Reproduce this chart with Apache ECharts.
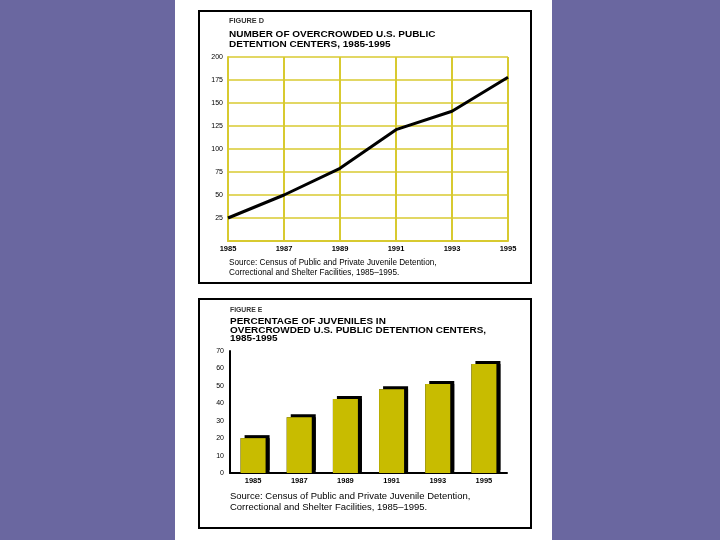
<!DOCTYPE html>
<html><head><meta charset="utf-8">
<script src="https://cdn.jsdelivr.net/npm/echarts@6/dist/echarts.min.js"></script>
<style>html,body{margin:0;padding:0;background:#6a67a0;}#c{width:720px;height:540px;}</style>
</head><body><div id="c"></div>
<script>
// Figure D data
const lineYears = ['1985','1987','1989','1991','1993','1995'];
const overcrowdedCenters = [25, 50, 79, 121, 141, 178];
// Figure E data
const barYears = ['1985','1987','1989','1991','1993','1995'];
const pctJuveniles = [20, 32, 42.5, 48, 51, 62.5];

const FONT = 'Liberation Sans, Arial, sans-serif';
const chart = echarts.init(document.getElementById('c'));
const txt = (x, y, s, size, weight, color, lh, sx) => ({
  type: 'text', x: x, y: y, scaleX: sx || 1,
  style: { text: s, fontSize: size, fontWeight: weight, fill: color || '#000', fontFamily: FONT,
           lineHeight: lh || size * 1.2, verticalAlign: 'top', align: 'left' }
});
const GRIDC = '#d8ca30';

chart.setOption({
  backgroundColor: '#6a67a0',
  animation: false,
  graphic: [
    { type: 'rect', shape: { x: 175, y: 0, width: 377, height: 540 }, style: { fill: '#fff' }, z: -10 },
    { type: 'rect', shape: { x: 199, y: 11, width: 332, height: 272 }, style: { fill: 'none', stroke: '#000', lineWidth: 2 }, z: -5 },
    { type: 'rect', shape: { x: 199, y: 299, width: 332, height: 229 }, style: { fill: 'none', stroke: '#000', lineWidth: 2 }, z: -5 },
    txt(229, 17, 'FIGURE D', 7, 'bold', '#333', 8, 1.05),
    txt(229, 30, 'NUMBER OF OVERCROWDED U.S. PUBLIC\nDETENTION CENTERS, 1985-1995', 9, 'bold', '#000', 10, 1.11),
    txt(229, 258, 'Source: Census of Public and Private Juvenile Detention,\nCorrectional and Shelter Facilities, 1985\u20131995.', 8.2, 'normal', '#000', 10),
    txt(230, 306, 'FIGURE E', 6.5, 'bold', '#333', 8, 1.05),
    txt(230, 318, 'PERCENTAGE OF JUVENILES IN\nOVERCROWDED U.S. PUBLIC DETENTION CENTERS,\n1985-1995', 8.3, 'bold', '#000', 8.3, 1.2),
    txt(230, 491, 'Source: Census of Public and Private Juvenile Detention,\nCorrectional and Shelter Facilities, 1985\u20131995.', 9.3, 'normal', '#000', 11, 1.02)
  ],
  grid: [
    { left: 228, right: 212, top: 57, bottom: 299 },
    { left: 230, right: 213, top: 351, bottom: 67 }
  ],
  xAxis: [
    { gridIndex: 0, type: 'category', data: lineYears, boundaryGap: false,
      axisLine: { lineStyle: { color: GRIDC, width: 2 } }, axisTick: { show: false },
      axisLabel: { fontSize: 7.5, fontWeight: 'bold', color: '#000', margin: 4, fontFamily: FONT },
      splitLine: { show: true, lineStyle: { color: GRIDC, width: 2 } } },
    { gridIndex: 1, type: 'category', data: barYears,
      axisLine: { lineStyle: { color: '#000', width: 2 } }, axisTick: { show: false },
      axisLabel: { fontSize: 7.5, fontWeight: 'bold', color: '#000', margin: 4, fontFamily: FONT } }
  ],
  yAxis: [
    { gridIndex: 0, type: 'value', min: 0, max: 200, interval: 25,
      axisLine: { show: true, lineStyle: { color: GRIDC, width: 2 } }, axisTick: { show: false },
      axisLabel: { fontSize: 7, color: '#000', margin: 5, fontFamily: FONT, formatter: v => v === 0 ? '' : v },
      splitLine: { lineStyle: { color: GRIDC, width: 1.5 } } },
    { gridIndex: 1, type: 'value', min: 0, max: 70, interval: 10,
      axisLine: { show: true, lineStyle: { color: '#000', width: 2 } }, axisTick: { show: false },
      axisLabel: { fontSize: 7, color: '#000', margin: 6, fontFamily: FONT },
      splitLine: { show: false } }
  ],
  series: [
    { type: 'line', xAxisIndex: 0, yAxisIndex: 0, data: overcrowdedCenters, symbol: 'none',
      lineStyle: { color: '#000', width: 3 } },
    { type: 'bar', xAxisIndex: 1, yAxisIndex: 1, data: pctJuveniles, barWidth: 25, z: 1,
      itemStyle: { color: '#000', shadowColor: '#000', shadowOffsetX: 4, shadowOffsetY: 0, shadowBlur: 0 } },
    { type: 'bar', xAxisIndex: 1, yAxisIndex: 1, data: pctJuveniles, barWidth: 25, barGap: '-100%', z: 2,
      itemStyle: { color: '#c8bc00', shadowColor: '#000', shadowOffsetX: 4, shadowOffsetY: -3, shadowBlur: 0 } }
  ]
});
</script></body></html>
